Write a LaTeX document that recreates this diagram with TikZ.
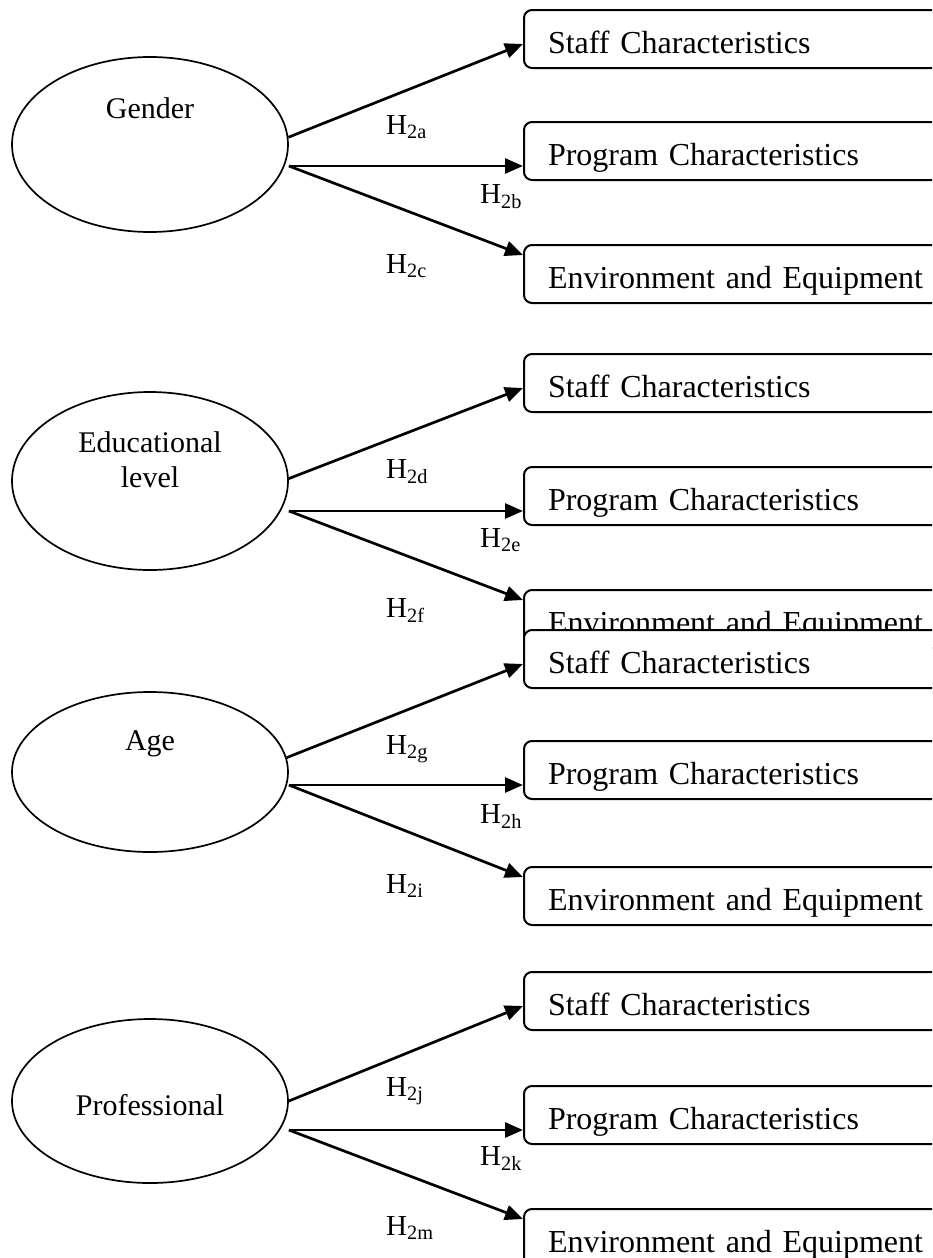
\documentclass[tikz,border=0pt]{standalone}
\usepackage{fontspec}
\setmainfont{Liberation Serif}
\usetikzlibrary{arrows.meta, positioning, shapes.geometric, calc}

\begin{document}
\begin{tikzpicture}[
  x=1pt, y=-1pt,
  factor/.style={ellipse, draw, line width=1.7pt, minimum width=276pt},
  ftext/.style={font=\fontsize{30}{35}\selectfont, align=center, anchor=base,
                inner sep=0pt},
  outcome/.style={rectangle, rounded corners=8pt, draw, line width=2pt,
                  fill=white, anchor=north west, inner xsep=24pt, inner ysep=0pt,
                  text width=400pt, text height=43pt, text depth=15pt,
                  font=\fontsize{32}{38}\selectfont},
  hyp/.style={font=\fontsize{29}{34}\selectfont, anchor=base west, inner sep=0pt},
  arr/.style={-{Triangle[length=18pt, width=15pt]}, line width=2.7pt},
]
\useasboundingbox (0,0) rectangle (932,1258);
\clip (0,0) rectangle (932,1258);

%% Gender
\node[factor, minimum height=175pt] (gen) at (150,144.5) {};
\node[ftext] (gentxt) at (150,118) {Gender};
\node[outcome] (staffA) at (523,9)   {Staff Characteristics};
\node[outcome] (progA)  at (523,121) {Program Characteristics};
\node[outcome] (envA)   at (523,244) {Environment and Equipment};
\coordinate (pA) at ([yshift=-15pt]progA.west);
\draw[arr] (gen.3) -- ([yshift=-5pt]staffA.west);
\draw[arr] (gen.east |- pA) -- (pA);
\draw[arr] (gen.east |- pA) -- ([yshift=19pt]envA.west);
\node[hyp] (h2a) at (386,134) {H\textsubscript{2a}};
\node[hyp] (h2b) at (480,203) {H\textsubscript{2b}};
\node[hyp] (h2c) at (386,273) {H\textsubscript{2c}};

%% Educational level
\node[factor, minimum height=178pt] (edu) at (150,481) {};
\node[ftext] (edutxt) at (150,487) {Educational\\level};
\node[outcome] (staffB) at (523,353) {Staff Characteristics};
\node[outcome] (progB)  at (523,466) {Program Characteristics};
\node[outcome] (envB)   at (523,589) {Environment and Equipment};
\coordinate (pB) at ([yshift=-15pt]progB.west);
\draw[arr] (edu.1) -- ([yshift=-5pt]staffB.west);
\draw[arr] (edu.east |- pB) -- (pB);
\draw[arr] (edu.east |- pB) -- ([yshift=19pt]envB.west);
\node[hyp] (h2d) at (386,478) {H\textsubscript{2d}};
\node[hyp] (h2e) at (480,547) {H\textsubscript{2e}};
\node[hyp] (h2f) at (386,617) {H\textsubscript{2f}};

%% Age
\node[factor, minimum height=160pt] (age) at (150,772) {};
\node[ftext] (agetxt) at (150,750) {Age};
\node[outcome] (staffC) at (523,629) {Staff Characteristics};
\node[outcome] (progC)  at (523,740) {Program Characteristics};
\node[outcome] (envC)   at (523,866) {Environment and Equipment};
\coordinate (pC) at ([yshift=-15pt]progC.west);
\draw[arr] (age.6) -- ([yshift=-5pt]staffC.west);
\draw[arr] (age.east |- pC) -- (pC);
\draw[arr] (age.east |- pC) -- ([yshift=19pt]envC.west);
\node[hyp] (h2g) at (386,754) {H\textsubscript{2g}};
\node[hyp] (h2h) at (480,823) {H\textsubscript{2h}};
\node[hyp] (h2i) at (386,893) {H\textsubscript{2i}};

%% Professional
\node[factor, minimum height=164pt] (pro) at (150,1101) {};
\node[ftext] (protxt) at (150,1115) {Professional};
\node[outcome] (staffD) at (523,971)  {Staff Characteristics};
\node[outcome] (progD)  at (523,1085) {Program Characteristics};
\node[outcome] (envD)   at (523,1208) {Environment and Equipment};
\coordinate (pD) at ([yshift=-15pt]progD.west);
\draw[arr] (pro.0) -- ([yshift=-5pt]staffD.west);
\draw[arr] (pro.east |- pD) -- (pD);
\draw[arr] (pro.east |- pD) -- ([yshift=19pt]envD.west);
\node[hyp] (h2j) at (386,1096) {H\textsubscript{2j}};
\node[hyp] (h2k) at (480,1165) {H\textsubscript{2k}};
\node[hyp] (h2m) at (386,1235) {H\textsubscript{2m}};

\end{tikzpicture}
\end{document}
